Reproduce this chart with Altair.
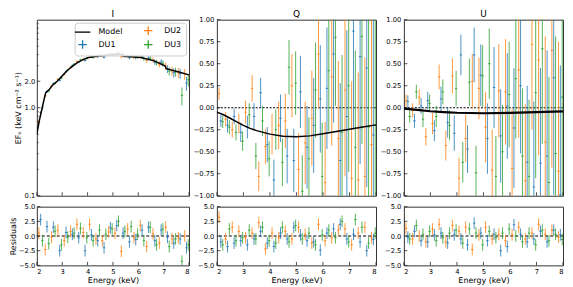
import altair as alt
import pandas as pd

# ---------------- data ----------------
DU_NAMES = ["DU1", "DU2", "DU3"]
LEGEND_ORDER = ["Model", "DU1", "DU2", "DU3"]
LEGEND_COLORS = ["#000000", "#1f77b4", "#ff7f0e", "#2ca02c"]
PANEL_TITLES = ["I", "Q", "U"]

E_DU1 = [2.15, 2.40, 2.65, 2.90, 3.15, 3.40, 3.65, 3.90, 4.15, 4.40, 4.65, 4.90,
         5.15, 5.40, 5.65, 5.90, 6.15, 6.40, 6.65, 6.90, 7.15, 7.40, 7.65, 7.90]
E_DU2 = [2.08, 2.33, 2.58, 2.83, 3.08, 3.33, 3.58, 3.83, 4.08, 4.33, 4.58, 4.83,
         5.08, 5.33, 5.58, 5.83, 6.08, 6.33, 6.58, 6.83, 7.08, 7.33, 7.58, 7.83]
E_DU3 = [2.22, 2.47, 2.72, 2.97, 3.22, 3.47, 3.72, 3.97, 4.22, 4.47, 4.72, 4.97,
         5.22, 5.47, 5.72, 5.97, 6.22, 6.47, 6.72, 6.97, 7.22, 7.47, 7.72, 7.97]
E_HALF = 0.045

# Stokes I (keV cm^-2 s^-1)
I_DU1 = [0.88, 1.52, 1.88, 2.05, 2.58, 3.02, 3.31, 3.45, 3.79, 3.80, 3.75, 4.08,
         4.12, 4.02, 3.70, 3.72, 3.80, 3.65, 3.30, 3.30, 2.76, 2.50, 2.45, 1.90]
I_DU2 = [0.69, 1.36, 1.76, 2.10, 2.40, 2.88, 3.35, 3.55, 3.85, 3.82, 3.86, 4.02,
         4.05, 3.80, 3.90, 3.75, 3.85, 3.45, 3.48, 3.12, 2.98, 2.62, 2.50, 2.42]
I_DU3 = [1.00, 1.55, 1.90, 2.18, 2.68, 3.12, 3.50, 3.63, 3.72, 3.98, 3.96, 4.10,
         4.22, 3.90, 3.92, 3.78, 3.60, 3.65, 3.25, 3.20, 2.60, 2.55, 1.38, 2.08]
I_ERR = [0.03, 0.05, 0.06, 0.07, 0.08, 0.09, 0.10, 0.11, 0.12, 0.13, 0.14, 0.15,
         0.16, 0.17, 0.18, 0.19, 0.20, 0.22, 0.24, 0.26, 0.28, 0.30, 0.32, 0.34]
I_MODEL_E = [2.0, 2.1, 2.2, 2.3, 2.35, 2.5, 2.6, 2.8, 3.0, 3.2, 3.4, 3.6, 3.8, 4.0,
             4.4, 4.8, 5.2, 5.35, 5.4, 5.7, 6.1, 6.6, 7.05, 7.1, 7.6, 8.0]
I_MODEL = [0.50, 0.72, 0.96, 1.30, 1.48, 1.62, 1.78, 2.00, 2.30, 2.65, 2.95, 3.25, 3.50,
           3.70, 3.87, 3.97, 4.04, 4.05, 3.85, 3.80, 3.72, 3.43, 3.00, 2.78, 2.54, 2.36]

# Stokes Q
Q_DU1 = [-0.15, -0.20, -0.10, -0.28, -0.22, -0.10, 0.17, -0.42, -0.82, -0.12, -0.55, -0.60,
         0.18, -0.45, -0.20, 0.10, 0.22, 0.61, -0.60, -0.10, 0.87, 0.58, 0.45, -0.31]
Q_DU2 = [0.16, -0.13, -0.25, -0.18, -0.05, 0.22, -0.78, -0.44, -0.30, -0.20, -0.15, 0.25,
         -0.70, -0.40, -0.12, 0.61, -0.85, 0.35, -0.35, 0.20, -0.80, -0.82, -0.78, -0.42]
Q_DU3 = [-0.16, -0.22, -0.28, -0.38, -0.08, -0.55, -0.15, -0.58, -0.25, -0.62, 0.46, 0.28,
         -0.95, -0.58, 0.20, -0.78, 0.42, 0.80, -0.28, 0.25, -0.45, 0.81, -0.22, -0.20]
Q_ERR = [0.07, 0.08, 0.09, 0.11, 0.13, 0.15, 0.17, 0.20, 0.23, 0.27, 0.31, 0.36,
         0.41, 0.47, 0.54, 0.61, 0.69, 0.78, 0.88, 0.98, 1.10, 1.22, 1.35, 1.50]
Q_MODEL_E = [2.0, 2.25, 2.5, 2.75, 3.0, 3.25, 3.5, 4.0, 4.5, 5.0, 5.5, 6.0, 6.5, 7.0, 7.5, 8.0]
Q_MODEL = [-0.05, -0.08, -0.12, -0.16, -0.20, -0.235, -0.26, -0.30, -0.325, -0.33,
           -0.32, -0.295, -0.27, -0.245, -0.22, -0.195]

# Stokes U
U_DU1 = [0.07, -0.15, 0.02, 0.08, -0.26, 0.10, -0.17, -0.29, 0.60, -0.47, 0.60, 0.37,
         -0.35, 0.23, -0.32, 0.02, -0.23, 0.25, -0.62, -0.90, -0.63, -0.55, 0.34, -0.99]
U_DU2 = [0.08, -0.03, 0.12, -0.33, -0.18, 0.35, -0.43, 0.36, -0.80, -0.35, 0.30, 0.22,
         -0.22, -0.71, 0.19, 0.18, -0.69, 0.43, -0.83, 0.72, 0.54, -0.39, 0.65, -0.72]
U_DU3 = [-0.10, 0.18, -0.13, 0.05, -0.10, 0.18, -0.20, 0.22, -0.62, 0.29, -0.74, 0.36,
         0.50, -0.78, -0.50, 0.15, 0.33, -0.55, -0.78, 0.17, 0.67, -0.85, -0.52, 0.12]
U_ERR = [0.07, 0.08, 0.09, 0.10, 0.12, 0.14, 0.17, 0.20, 0.23, 0.27, 0.31, 0.35,
         0.40, 0.46, 0.53, 0.60, 0.68, 0.77, 0.87, 0.97, 1.08, 1.20, 1.33, 1.47]
U_MODEL_E = [2.0, 2.5, 3.0, 3.5, 4.0, 5.0, 6.0, 7.0, 8.0]
U_MODEL = [-0.01, -0.025, -0.04, -0.05, -0.057, -0.063, -0.058, -0.05, -0.042]

# Residuals
RI_DU1 = [2.8, 1.6, 1.5, -2.5, 0.6, 0.3, -0.3, -2.5, 0.2, -0.8, -2.0, 1.4,
          1.8, 0.5, -1.0, -0.6, 1.0, 1.5, -0.8, 1.0, -0.2, -1.2, -0.5, -2.0]
RI_DU2 = [0.5, -2.3, -0.2, 1.0, -0.8, 0.8, 2.0, 0.6, 2.0, -0.5, -0.8, 0.7,
          0.5, -2.6, 1.2, -0.3, 1.8, -1.8, 0.4, -1.2, 1.5, -0.5, -0.3, 0.0]
RI_DU3 = [-0.8, -1.3, 0.8, -1.5, -0.2, 0.5, 1.3, -0.3, -0.8, 1.0, 0.3, 1.2,
          2.5, 0.8, 1.6, 0.3, -0.8, 1.5, -1.5, 1.2, -1.8, -0.5, -4.3, -1.5]
RQ_DU1 = [-1.0, -1.8, -1.2, -0.8, -1.5, -0.5, 0.8, -1.2, -1.8, 0.5, -0.5, 1.5,
          0.2, -0.8, -1.0, -2.4, 0.5, 1.2, 2.0, -0.5, 0.3, -1.0, -2.5, -0.6]
RQ_DU2 = [3.2, -0.5, 1.5, 0.8, -0.3, 0.5, 2.3, -2.2, 0.5, -0.3, 0.8, -0.5,
          1.5, 0.3, -1.2, 2.0, -0.8, -0.3, 1.0, 1.2, -1.5, 0.5, 1.5, -0.3]
RQ_DU3 = [-1.5, 1.2, -0.8, -0.3, 1.0, -0.5, 1.5, -0.8, -1.2, 1.5, -1.0, 1.8,
          -0.5, 0.5, -1.5, 0.2, 1.0, -0.3, 2.5, -1.0, 2.8, 1.5, -1.2, 0.5]
RU_DU1 = [-0.2, 0.8, -0.8, -1.0, 0.2, 0.5, -1.2, 0.2, -0.5, -1.5, 2.2, 0.5,
          -0.8, 0.3, -2.5, -1.8, 1.9, 0.3, -1.0, -0.5, 0.8, -1.0, 1.0, 0.2]
RU_DU2 = [1.3, -0.5, 0.0, -1.0, 1.2, 2.0, -1.0, 1.8, 0.8, 1.5, -2.3, 0.2,
          1.5, -0.5, 0.3, -0.8, 0.2, 1.5, -0.5, 0.5, 2.0, 0.3, 1.0, -0.2]
RU_DU3 = [-0.5, 1.8, 0.3, 0.8, -0.8, -0.3, 0.5, 1.0, -1.2, 1.2, 0.5, -1.5,
          0.8, -0.3, 0.5, 1.2, 0.0, -1.0, 0.5, -1.5, 1.0, -0.8, 0.3, -0.6]
R_ERR = [1.0] * 24

ZERO_LINE = [0.0]
X_TICKS = [2, 3, 4, 5, 6, 7, 8]
I_TICKS = [0.1, 1.0, 2.0]
I_MINOR = [0.2, 0.3, 0.4, 0.5, 0.6, 0.7, 0.8, 0.9, 3, 4, 5, 6, 7, 8, 9]
P_TICKS = [-1.0, -0.75, -0.5, -0.25, 0.0, 0.25, 0.5, 0.75, 1.0]
R_TICKS = [-5.0, -2.5, 0.0, 2.5, 5.0]

ENERGIES = [E_DU1, E_DU2, E_DU3]


def frame(values, errs):
    rows = []
    for name, elist, vlist in zip(DU_NAMES, ENERGIES, values):
        for e, v, s in zip(elist, vlist, errs):
            rows.append({"series": name, "E": e, "v": v, "lo": v - s, "hi": v + s,
                         "elo": e - E_HALF, "ehi": e + E_HALF})
    return pd.DataFrame(rows)


df_I = frame([I_DU1, I_DU2, I_DU3], I_ERR)
df_Q = frame([Q_DU1, Q_DU2, Q_DU3], Q_ERR)
df_U = frame([U_DU1, U_DU2, U_DU3], U_ERR)
df_RI = frame([RI_DU1, RI_DU2, RI_DU3], R_ERR)
df_RQ = frame([RQ_DU1, RQ_DU2, RQ_DU3], R_ERR)
df_RU = frame([RU_DU1, RU_DU2, RU_DU3], R_ERR)
m_I = pd.DataFrame({"E": I_MODEL_E, "v": I_MODEL})
m_Q = pd.DataFrame({"E": Q_MODEL_E, "v": Q_MODEL})
m_U = pd.DataFrame({"E": U_MODEL_E, "v": U_MODEL})

# ---------------- styling helpers ----------------
W_FIRST = 153
W = 160
H_TOP = 177
H_BOT = 59
FONT = "DejaVu Sans"
MINUS_EXPR2 = "replace(format(datum.value, '.2f'), '-', '\u2212')"
MINUS_EXPR1 = "replace(format(datum.value, '.1f'), '-', '\u2212')"

xs = alt.Scale(domain=[2, 8], nice=False, zero=False)
cscale = alt.Scale(domain=LEGEND_ORDER, range=LEGEND_COLORS)

LINE_PATH = "M-2.6,0H2.6"
PLUS_PATH = "M-1.4,0H1.4M0,-1.4V1.4"

LEG = alt.Legend(title=None, orient="top-right", columns=2, symbolSize=36,
                 symbolStrokeWidth=1.3, symbolOpacity=1, labelFontSize=8,
                 labelFont=FONT, labelColor="black", padding=4, strokeColor="#cccccc",
                 fillColor="rgba(255,255,255,0.85)", cornerRadius=3, offset=3,
                 columnPadding=18, rowPadding=0, labelOffset=12)


def x_axis(bottom):
    if bottom:
        return alt.Axis(values=X_TICKS, format="d", title="Energy (keV)", ticks=False,
                        domain=False, grid=False, labelPadding=3, titlePadding=1)
    return alt.Axis(values=X_TICKS, labels=False, title=None, ticks=False,
                    domain=False, grid=False)


def panel(df, model, ys, yax, bottom, h, w, tick_vals, minor_vals=(), zero_dash=None,
          model_width=1.5, legend=False, title=None):
    xax = x_axis(bottom)
    leg = LEG if legend else None

    def X(f):
        return alt.X(f, scale=xs, axis=xax)

    def Y(f):
        return alt.Y(f, scale=ys, axis=yax)

    color = alt.Color("series:N", scale=cscale, legend=leg)
    layers = []
    if zero_dash is not None:
        layers.append(alt.Chart(pd.DataFrame({"z": ZERO_LINE})).mark_rule(
            color="black", strokeWidth=1.1, strokeDash=zero_dash).encode(y=Y("z:Q")))
    layers.append(alt.Chart(df).mark_rule(strokeWidth=1, opacity=0.8, clip=True).encode(
        x=X("E:Q"), y=Y("lo:Q"), y2="hi:Q", color=color))
    layers.append(alt.Chart(df).mark_rule(strokeWidth=1, opacity=0.9, clip=True).encode(
        x=X("elo:Q"), x2="ehi:Q", y=Y("v:Q"), color=color))
    if model is not None:
        layers.append(alt.Chart(model).mark_line(color="black", strokeWidth=model_width,
                                                 clip=True).encode(x=X("E:Q"), y=Y("v:Q")))
    # inward ticks
    layers.append(alt.Chart(pd.DataFrame({"t": X_TICKS})).mark_rule(
        color="#222", strokeWidth=0.8).encode(x=X("t:Q"), y=alt.value(h), y2=alt.value(h - 3.5)))
    layers.append(alt.Chart(pd.DataFrame({"t": tick_vals})).mark_rule(
        color="#222", strokeWidth=0.8).encode(y=Y("t:Q"), x=alt.value(0), x2=alt.value(3.5)))
    if len(minor_vals):
        layers.append(alt.Chart(pd.DataFrame({"t": list(minor_vals)})).mark_rule(
            color="#222", strokeWidth=0.6).encode(y=Y("t:Q"), x=alt.value(0), x2=alt.value(2)))
    if title is not None:
        layers.append(alt.Chart(pd.DataFrame({"name": [title]})).mark_text(
            font=FONT, fontSize=9, color="black", baseline="alphabetic", align="center").encode(
            text="name:N", x=alt.value(w / 2), y=alt.value(-3)))
    if legend:
        layers.append(alt.Chart(pd.DataFrame({"series": LEGEND_ORDER})).mark_point(
            filled=False, opacity=0).encode(
            x=alt.value(0), y=alt.value(0),
            color=alt.Color("series:N", scale=cscale, legend=LEG),
            shape=alt.Shape("series:N", scale=alt.Scale(
                domain=LEGEND_ORDER, range=[LINE_PATH, PLUS_PATH, PLUS_PATH, PLUS_PATH]),
                legend=LEG)))
    return alt.layer(*layers).properties(width=w, height=h)


ys_I = alt.Scale(type="log", domain=[0.1, 10], nice=False)
ys_P = alt.Scale(domain=[-1, 1], nice=False, zero=False)
ys_R = alt.Scale(domain=[-5, 5], nice=False, zero=False)

ax_I = alt.Axis(values=I_TICKS, format=".1f", title="EF\u2091 (keV cm\u207b\u00b2 s\u207b\u00b9)",
                ticks=False, domain=False, grid=False, labelPadding=2, titlePadding=2)
ax_P = alt.Axis(values=P_TICKS, labelExpr=MINUS_EXPR2, title=None, ticks=False,
                domain=False, grid=False, labelPadding=3)
ax_R_first = alt.Axis(values=R_TICKS, labelExpr=MINUS_EXPR1, title="Residuals", ticks=False,
                      domain=False, grid=False, labelPadding=2, titlePadding=1)
ax_R = alt.Axis(values=R_TICKS, labelExpr=MINUS_EXPR1, title=None, ticks=False,
                domain=False, grid=False, labelPadding=3)

p_I = panel(df_I, m_I, ys_I, ax_I, False, H_TOP, W_FIRST, I_TICKS, I_MINOR, legend=True,
            title=PANEL_TITLES[0])
p_Q = panel(df_Q, m_Q, ys_P, ax_P, False, H_TOP, W, P_TICKS, zero_dash=[2, 1.5],
            title=PANEL_TITLES[1])
p_U = panel(df_U, m_U, ys_P, ax_P, False, H_TOP, W, P_TICKS, zero_dash=[2, 1.5],
            model_width=2.2, title=PANEL_TITLES[2])
r_I = panel(df_RI, None, ys_R, ax_R_first, True, H_BOT, W_FIRST, R_TICKS, zero_dash=[3, 2])
r_Q = panel(df_RQ, None, ys_R, ax_R, True, H_BOT, W, R_TICKS, zero_dash=[3, 2])
r_U = panel(df_RU, None, ys_R, ax_R, True, H_BOT, W, R_TICKS, zero_dash=[3, 2])

chart = alt.ConcatChart(
    concat=[p_I, p_Q, p_U, r_I, r_Q, r_U],
    columns=3,
    bounds="flush",
    align="each",
    spacing={"row": 11, "column": 28},
    padding={"left": 0, "top": 0, "right": 0, "bottom": 0},
).resolve_scale(color="independent", shape="independent").resolve_legend(
    color="independent", shape="independent"
).configure(
    font=FONT, background="white"
).configure_view(
    stroke="#333333", strokeWidth=1
).configure_axis(
    labelFont=FONT, titleFont=FONT, labelFontSize=6.8, titleFontSize=8,
    labelColor="black", titleColor="black", titleFontWeight="normal"
)

chart.save("out.html", embed_options={"renderer": "svg", "actions": False})
